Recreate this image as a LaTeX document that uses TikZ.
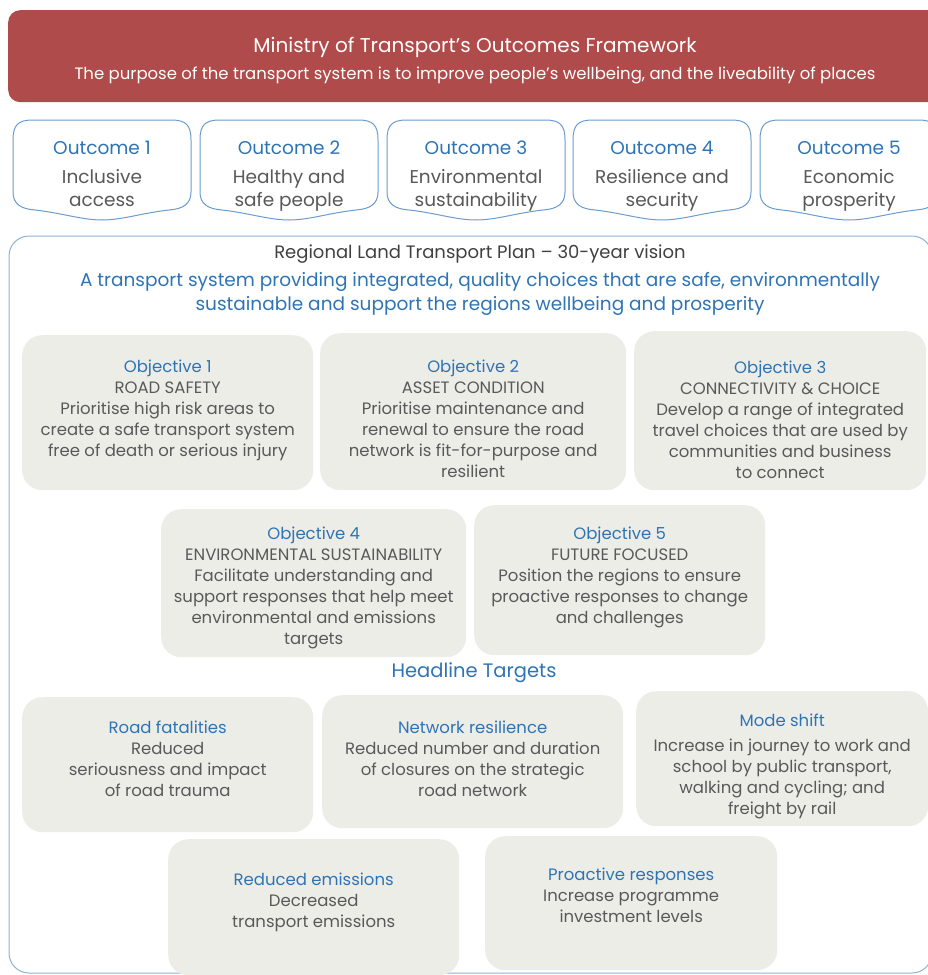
\documentclass[tikz,border=0pt]{standalone}
\usepackage{fontspec}
\setmainfont{Poppins}
\usetikzlibrary{positioning}
\definecolor{headred}{HTML}{B04B4B}
\definecolor{tblue}{HTML}{2E74B5}
\definecolor{tgray}{HTML}{595959}
\definecolor{boxgray}{HTML}{EDEDE8}
\definecolor{lineblue}{HTML}{6A9CCF}
\definecolor{frameblue}{HTML}{8EB2D6}

% outcome box with a bulging bottom edge, from x=#1 to x=#2
\newcommand{\outcomeshape}[2]{%
  \draw[outcome] ({#1},140) .. controls ({#1},125) and ({#1+5},120) .. ({#1+20},120)
    -- ({#2-20},120) .. controls ({#2-5},120) and ({#2},125) .. ({#2},140)
    -- ({#2},192) .. controls ({#2},204) and ({#2-8},209) .. ({#2-22},210)
    .. controls ({(#1+#2)/2+40},213) and ({(#1+#2)/2+20},220) .. ({(#1+#2)/2},220)
    .. controls ({(#1+#2)/2-20},220) and ({(#1+#2)/2-40},213) .. ({#1+22},210)
    .. controls ({#1+8},209) and ({#1},204) .. ({#1},192) -- cycle;}

\begin{document}
\begin{tikzpicture}[x=1pt, y=-1pt, every node/.style={text=tgray}]
  \tikzset{
    header/.style={rectangle, rounded corners=12pt, fill=headred, anchor=north west, inner sep=0pt},
    outcome/.style={draw=lineblue, line width=1pt, fill=white},
    outtext/.style={anchor=north, align=center, inner sep=0pt, font=\fontsize{18.5}{23}\selectfont},
    frame/.style={draw=frameblue, line width=1pt, rounded corners=20pt},
    card/.style={rectangle, rounded corners=20pt, fill=boxgray, anchor=north west, inner sep=0pt},
    cardtext/.style={anchor=north, align=center, inner sep=0pt, font=\fontsize{16.5}{21}\selectfont}
  }
  \clip (0,0) rectangle (928,975);

  % header
  \node[header, minimum width=940pt, minimum height=92pt] (head) at (8,10) {};
  \node[text=white, font=\fontsize{20}{24}\selectfont] (headtitle) at (475,47) {Ministry of Transport’s Outcomes Framework};
  \node[text=white, font=\fontsize{16.5}{20}\selectfont] (headsub) at (475,75) {The purpose of the transport system is to improve people’s wellbeing, and the liveability of places};

  % outcomes
  \outcomeshape{13}{191}
  \outcomeshape{200}{378}
  \outcomeshape{387}{565}
  \outcomeshape{573}{751}
  \outcomeshape{760}{938}
  \node[outtext] (out1) at (102,141) {{\color{tblue}Outcome 1}\\[6pt]Inclusive\\access};
  \node[outtext] (out2) at (289,141) {{\color{tblue}Outcome 2}\\[6pt]Healthy and\\safe people};
  \node[outtext] (out3) at (476,141) {{\color{tblue}Outcome 3}\\[6pt]Environmental\\sustainability};
  \node[outtext] (out4) at (662,141) {{\color{tblue}Outcome 4}\\[6pt]Resilience and\\security};
  \node[outtext] (out5) at (849,141) {{\color{tblue}Outcome 5}\\[6pt]Economic\\prosperity};

  % plan frame
  \draw[frame] (9,236) rectangle (932,973);
  \node[text=black!75, font=\fontsize{18}{22}\selectfont] (plan) at (480,254) {Regional Land Transport Plan – 30-year vision};
  \node[text=tblue, align=center, font=\fontsize{18.5}{24}\selectfont] (vision) at (480,294) {A transport system providing integrated, quality choices that are safe, environmentally\\sustainable and support the regions wellbeing and prosperity};

  % objectives
  \node[card, minimum width=291pt, minimum height=155pt] (obj1) at (22,335) {};
  \node[card, minimum width=306pt, minimum height=157pt] (obj2) at (320,333) {};
  \node[card, minimum width=292pt, minimum height=159pt] (obj3) at (634,331) {};
  \node[card, minimum width=305pt, minimum height=148pt] (obj4) at (161,509) {};
  \node[card, minimum width=291pt, minimum height=150pt] (obj5) at (474,505) {};
  \node[cardtext, below=25pt of obj1.north] (obj1txt) {{\color{tblue}Objective 1}\\ROAD SAFETY\\Prioritise high risk areas to\\create a safe transport system\\free of death or serious injury};
  \node[cardtext, below=27pt of obj2.north] (obj2txt) {{\color{tblue}Objective 2}\\ASSET CONDITION\\Prioritise maintenance and\\renewal to ensure the road\\network is fit-for-purpose and\\resilient};
  \node[cardtext, below=30pt of obj3.north] (obj3txt) {{\color{tblue}Objective 3}\\CONNECTIVITY \& CHOICE\\Develop a range of integrated\\travel choices that are used by\\communities and business\\to connect};
  \node[cardtext, below=18pt of obj4.north] (obj4txt) {{\color{tblue}Objective 4}\\ENVIRONMENTAL SUSTAINABILITY\\Facilitate understanding and\\support responses that help meet\\environmental and emissions\\targets};
  \node[cardtext, below=22pt of obj5.north] (obj5txt) {{\color{tblue}Objective 5}\\FUTURE FOCUSED\\Position the regions to ensure\\proactive responses to change\\and challenges};

  % headline targets
  \node[text=tblue, font=\fontsize{19.5}{23}\selectfont] (headline) at (474,673) {Headline Targets};
  \node[card, minimum width=291pt, minimum height=135pt] (fatal) at (22,697) {};
  \node[card, minimum width=301pt, minimum height=133pt] (resil) at (322,695) {};
  \node[card, minimum width=292pt, minimum height=135pt] (mode) at (636,691) {};
  \node[card, minimum width=291pt, minimum height=136pt] (emis) at (168,839) {};
  \node[card, minimum width=292pt, minimum height=134pt] (proact) at (485,836) {};
  \node[cardtext, below=24pt of fatal.north] (fataltxt) {{\color{tblue}Road fatalities}\\Reduced\\seriousness and impact\\of road trauma};
  \node[cardtext, below=26pt of resil.north] (resiltxt) {{\color{tblue}Network resilience}\\Reduced number and duration\\of closures on the strategic\\road network};
  \node[cardtext, below=23pt of mode.north] (modetxt) {{\color{tblue}Mode shift}\\[4pt]Increase in journey to work and\\school by public transport,\\walking and cycling; and\\freight by rail};
  \node[cardtext, below=34pt of emis.north] (emistxt) {{\color{tblue}Reduced emissions}\\Decreased\\transport emissions};
  \node[cardtext, below=32pt of proact.north] (proacttxt) {{\color{tblue}Proactive responses}\\Increase programme\\investment levels};
\end{tikzpicture}
\end{document}
